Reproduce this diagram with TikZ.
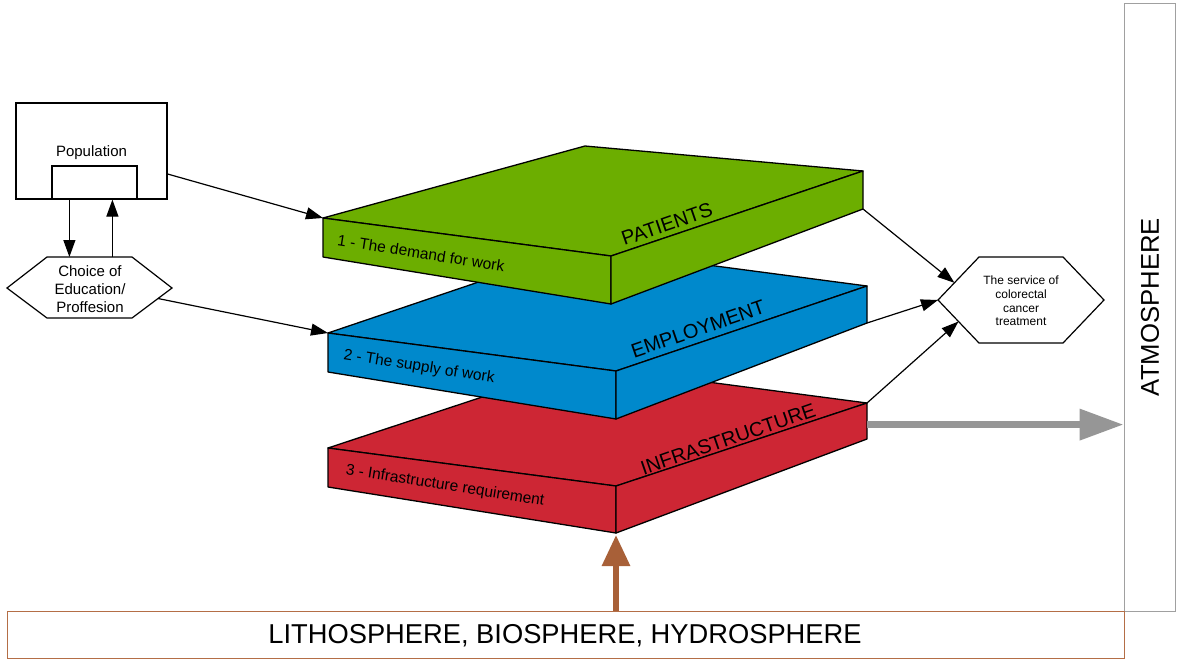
\documentclass[tikz,border=0pt]{standalone}
\usepackage{fontspec}
\setmainfont{Liberation Sans}
\usetikzlibrary{arrows.meta,calc}
\definecolor{gfill}{RGB}{108,174,0}
\definecolor{bfill}{RGB}{0,137,204}
\definecolor{rfill}{RGB}{205,38,52}
\definecolor{grayarr}{RGB}{150,150,150}
\definecolor{brownarr}{RGB}{168,96,56}
\definecolor{brownbox}{RGB}{180,110,70}
\definecolor{atmgray}{RGB}{160,160,160}
\begin{document}
\begin{tikzpicture}[x=1pt,y=-1pt,
  slab/.style={draw=black,line width=1.3pt,line join=round},
  arr/.style={draw=black,line width=1.2pt,-{Triangle[length=17pt,width=12pt]}},
  boxline/.style={draw=black,line width=1.2pt},
  sidetxt/.style={font=\fontsize{15.5}{18}\selectfont,inner sep=0pt,rotate=-9},
  toptxt/.style={font=\fontsize{20}{24}\selectfont,inner sep=0pt,rotate=19},
  smalltxt/.style={font=\fontsize{15}{18}\selectfont,align=center,inner sep=0pt},
]
\useasboundingbox (0,0) rectangle (1177,659);

% ---------- slab coordinates ----------
\coordinate (gL) at (323,218); \coordinate (gB) at (585,146);
\coordinate (gR) at (863,171); \coordinate (gF) at (611,256);
\coordinate (gLb) at (323,257); \coordinate (gFb) at (611,304); \coordinate (gRb) at (863,209);

\coordinate (bL) at (328,333); \coordinate (bB) at (579,248);
\coordinate (bR) at (867,286); \coordinate (bF) at (616,371);
\coordinate (bLb) at (328,372); \coordinate (bFb) at (616,419); \coordinate (bRb) at (867,323);

\coordinate (rL) at (328,448); \coordinate (rB) at (579,365);
\coordinate (rR) at (867,403); \coordinate (rF) at (616,486);
\coordinate (rLb) at (328,487); \coordinate (rFb) at (616,533); \coordinate (rRb) at (867,439);

% ---------- red slab ----------
\draw[slab,fill=rfill] (rL)--(rB)--(rR)--(rF)--cycle;
\draw[slab,fill=rfill] (rL)--(rF)--(rFb)--(rLb)--cycle;
\draw[slab,fill=rfill] (rF)--(rR)--(rRb)--(rFb)--cycle;
\node[sidetxt] (rside) at (445,486) {3 - Infrastructure requirement};
\node[toptxt] (rtop) at (728,439) {INFRASTRUCTURE};

% ---------- blue slab ----------
\draw[slab,fill=bfill] (bL)--(bB)--(bR)--(bF)--cycle;
\draw[slab,fill=bfill] (bL)--(bF)--(bFb)--(bLb)--cycle;
\draw[slab,fill=bfill] (bF)--(bR)--(bRb)--(bFb)--cycle;
\node[sidetxt] (bside) at (419,367) {2 - The supply of work};
\node[toptxt] (btop) at (698,329) {EMPLOYMENT};

% ---------- green slab ----------
\draw[slab,fill=gfill] (gL)--(gB)--(gR)--(gF)--cycle;
\draw[slab,fill=gfill] (gL)--(gF)--(gFb)--(gLb)--cycle;
\draw[slab,fill=gfill] (gF)--(gR)--(gRb)--(gFb)--cycle;
\node[sidetxt] (gside) at (421,253) {1 - The demand for work};
\node[toptxt] (gtop) at (667,224) {PATIENTS};

% ---------- population ----------
\node[boxline,minimum width=151pt,minimum height=96pt,inner sep=0pt] (pop) at (91.5,151) {};
\node[font=\fontsize{15}{18}\selectfont,inner sep=0pt] (poptxt) at (91.5,153) {Population};
\node[boxline,minimum width=85pt,minimum height=33pt,inner sep=0pt] (popin) at (94.5,182.5) {};

% ---------- choice hexagon ----------
\coordinate (chL) at (7,288); \coordinate (chTL) at (47,257); \coordinate (chTR) at (132,257);
\coordinate (chR) at (172,288); \coordinate (chBR) at (132,318); \coordinate (chBL) at (47,318);
\draw[boxline,fill=white] (chL)--(chTL)--(chTR)--(chR)--(chBR)--(chBL)--cycle;
\node[smalltxt] (choice) at (90,289) {Choice of\\Education/\\Proffesion};

% ---------- service hexagon ----------
\coordinate (svL) at (938,300); \coordinate (svTL) at (979,257); \coordinate (svTR) at (1063,257);
\coordinate (svR) at (1104,300); \coordinate (svBR) at (1063,343); \coordinate (svBL) at (979,343);
\draw[boxline,fill=white] (svL)--(svTL)--(svTR)--(svR)--(svBR)--(svBL)--cycle;
\node[font=\fontsize{12}{13.6}\selectfont,align=center,inner sep=0pt] (svc) at (1021,301)
  {The service of\\colorectal\\cancer\\treatment};

% ---------- atmosphere & lithosphere ----------
\node[draw=atmgray,line width=1pt,minimum width=51pt,minimum height=608pt,inner sep=0pt] (atm) at (1149.5,307) {};
\node[rotate=90,font=\fontsize{25.7}{30}\selectfont,inner sep=0pt] (atmtxt) at (1150,307) {ATMOSPHERE};
\node[draw=brownbox,line width=1pt,minimum width=1117pt,minimum height=47.5pt,inner sep=0pt] (litho) at (565.5,634.75) {};
\node[font=\fontsize{27.3}{32}\selectfont,inner sep=0pt] (lithotxt) at (565,636) {LITHOSPHERE, BIOSPHERE, HYDROSPHERE};

% ---------- connectors ----------
\draw[arr] ([yshift=-23pt]pop.east) -- (gL);
\draw[arr] ($(chR)!0.35!(chBR)$) -- (bL);
\draw[arr] ([xshift=18pt]popin.south west) -- ([xshift=18pt]popin.south west |- chTL);
\draw[arr] ([xshift=61pt]popin.south west |- chTL) -- ([xshift=61pt]popin.south west);
\draw[arr] (gRb) -- ($(svL)!0.4!(svTL)$);
\draw[arr] (bRb) -- (svL);
\draw[arr] (rR) -- ($(svL)!0.5!(svBL)$);

\draw[grayarr,line width=7pt,-{Triangle[length=44pt,width=30pt]}]
  ($(rR)!0.6!(rRb)$) coordinate (gs) -- (gs -| atm.west);
\draw[brownarr,line width=6pt,-{Triangle[length=31pt,width=27pt]}]
  (rFb |- litho.north) -- ([yshift=-2pt]rFb);
\end{tikzpicture}
\end{document}
